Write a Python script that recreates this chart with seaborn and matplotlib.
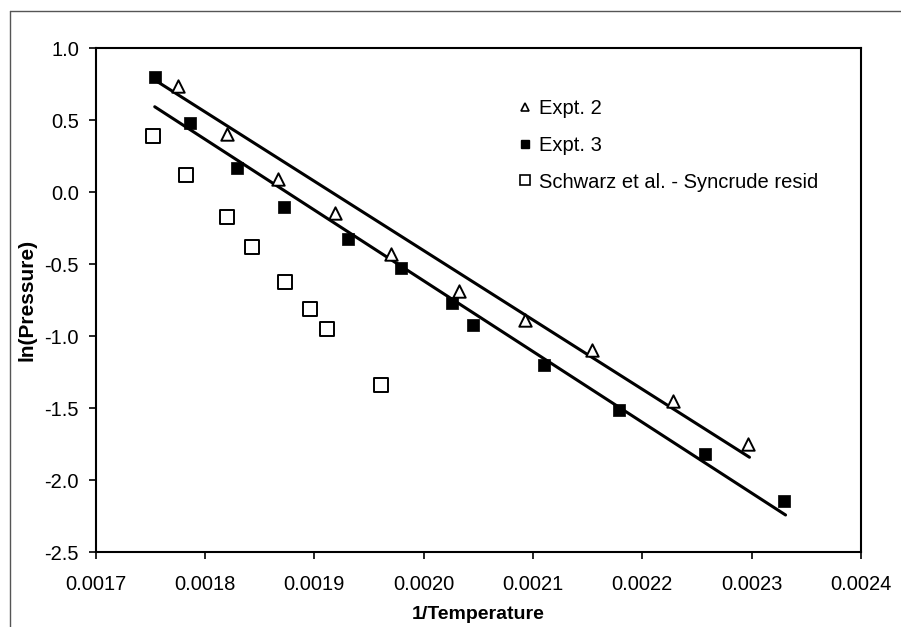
import matplotlib
matplotlib.use("Agg")
import matplotlib.pyplot as plt
import seaborn as sns
import pandas as pd
from matplotlib.ticker import FormatStrFormatter, MultipleLocator
from matplotlib.lines import Line2D

# ---- data ----
expt2_x = [0.001775, 0.001820, 0.001867, 0.001919, 0.001970, 0.002032,
           0.002093, 0.002154, 0.002228, 0.002297]
expt2_y = [0.736, 0.400, 0.088, -0.144, -0.433, -0.685,
           -0.889, -1.097, -1.451, -1.752]

expt3_x = [0.001754, 0.001786, 0.001829, 0.001872, 0.001931, 0.001979,
           0.002026, 0.002045, 0.002110, 0.002179, 0.002257, 0.002330]
expt3_y = [0.800, 0.477, 0.169, -0.106, -0.329, -0.530,
           -0.773, -0.924, -1.201, -1.514, -1.822, -2.148]

schwarz_x = [0.001752, 0.001783, 0.001820, 0.001843, 0.001873, 0.001896,
             0.001912, 0.001961]
schwarz_y = [0.391, 0.120, -0.176, -0.384, -0.623, -0.815, -0.951, -1.342]

fit2_x = [0.001754, 0.002298]
fit2_y = [0.778, -1.842]
fit3_x = [0.001754, 0.002331]
fit3_y = [0.592, -2.243]

legend_labels = ["Expt. 2", "Expt. 3", "Schwarz et al. - Syncrude resid"]
x_label = "1/Temperature"
y_label = "ln(Pressure)"

# ---- plotting ----
sns.set_theme(style="ticks")
plt.rcParams["font.family"] = ["Liberation Sans", "DejaVu Sans"]
plt.rcParams["axes.unicode_minus"] = False
plt.rcParams["text.color"] = "black"
plt.rcParams["axes.labelcolor"] = "black"

fig = plt.figure(figsize=(9.01, 6.27), dpi=100)
ax = fig.add_axes([95.7 / 901, 75 / 627, (861 - 95.7) / 901, (552 - 48) / 627])

df2 = pd.DataFrame({"x": expt2_x, "y": expt2_y})
df3 = pd.DataFrame({"x": expt3_x, "y": expt3_y})
dfs = pd.DataFrame({"x": schwarz_x, "y": schwarz_y})

sns.lineplot(x=fit2_x, y=fit2_y, ax=ax, color="black", lw=2.2, zorder=2)
sns.lineplot(x=fit3_x, y=fit3_y, ax=ax, color="black", lw=2.2, zorder=2)

sns.scatterplot(data=df2, x="x", y="y", ax=ax, marker="^", s=80,
                facecolor="white", edgecolor="black", linewidth=1.4, zorder=3)
sns.scatterplot(data=df3, x="x", y="y", ax=ax, marker="s", s=75,
                color="black", edgecolor="black", linewidth=0.5, zorder=3)
sns.scatterplot(data=dfs, x="x", y="y", ax=ax, marker="s", s=100,
                facecolor="white", edgecolor="black", linewidth=1.4, zorder=3)

ax.set_xlim(0.0017, 0.0024)
ax.set_ylim(-2.5, 1.0)
ax.xaxis.set_major_locator(MultipleLocator(0.0001))
ax.yaxis.set_major_locator(MultipleLocator(0.5))
ax.xaxis.set_major_formatter(FormatStrFormatter("%.4f"))
ax.yaxis.set_major_formatter(FormatStrFormatter("%.1f"))

for sp in ax.spines.values():
    sp.set_visible(True)
    sp.set_color("black")
    sp.set_linewidth(1.5)
ax.tick_params(direction="out", length=5, width=1.2, color="black",
               labelsize=14.5, labelcolor="black", pad=7)
ax.tick_params(axis="x", pad=11.5)

ax.set_xlabel(x_label, fontsize=14, fontweight="bold", labelpad=9, color="black")
ax.set_ylabel(y_label, fontsize=15, fontweight="bold", color="black")
ax.yaxis.set_label_coords(-0.078, 0.5)

handles = [
    Line2D([], [], ls="none", marker="^", ms=6, mfc="white", mec="black", mew=1.2),
    Line2D([], [], ls="none", marker="s", ms=6, mfc="black", mec="black"),
    Line2D([], [], ls="none", marker="s", ms=7, mfc="white", mec="black", mew=1.2),
]
leg = ax.legend(handles, legend_labels, loc="upper left",
                bbox_to_anchor=((507 - 95.7) / (861 - 95.7), 1 - (91 - 48) / 504),
                frameon=False, fontsize=14.5, handletextpad=0.2, labelspacing=0.88,
                handlelength=1.0, borderaxespad=0)
for t in leg.get_texts():
    t.set_color("black")

# outer frame lines of the original figure
fig.add_artist(Line2D([10 / 901, 1.0], [1 - 11 / 627, 1 - 11 / 627],
                      transform=fig.transFigure, color="#555555", lw=1))
fig.add_artist(Line2D([10 / 901, 10 / 901], [0, 1 - 11 / 627],
                      transform=fig.transFigure, color="#555555", lw=1))

fig.savefig("out.png", dpi=100, facecolor="white")
